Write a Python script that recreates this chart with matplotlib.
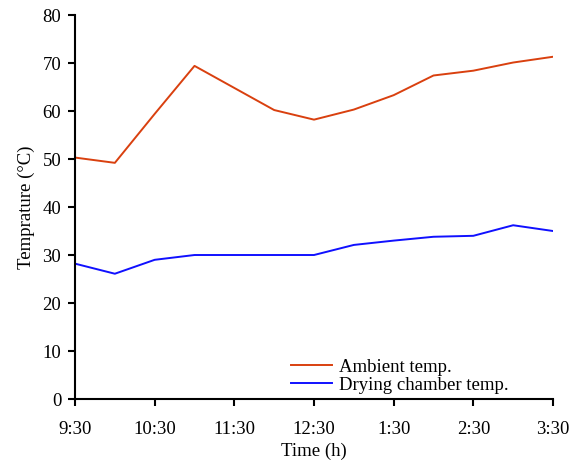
import matplotlib
matplotlib.use("Agg")
import matplotlib.pyplot as plt

plt.rcParams['font.family'] = ['Liberation Serif', 'DejaVu Serif']

# hours after 9:30, sampled every half hour
hours = [0, 0.5, 1, 1.5, 2, 2.5, 3, 3.5, 4, 4.5, 5, 5.5, 6]
ambient = [50.3, 49.2, 59.4, 69.4, 64.8, 60.2, 58.2, 60.3, 63.3, 67.4, 68.4, 70.1, 71.3]
chamber = [28.2, 26.1, 29.0, 30.0, 30.0, 30.0, 30.0, 32.1, 33.0, 33.8, 34.0, 36.2, 35.0]

tick_pos = [0, 1, 2, 3, 4, 5, 6]
tick_labels = ["9:30", "10:30", "11:30", "12:30", "1:30", "2:30", "3:30"]

fig = plt.figure(figsize=(5.74, 4.63), dpi=100)
ax = fig.add_axes([0.1307, 0.1382, 0.8327, 0.8294])

ax.plot(hours, ambient, color='#d9400f', lw=1.4, label='Ambient temp.')
ax.plot(hours, chamber, color='#1010ff', lw=1.4, label='Drying chamber temp.')

ax.set_xlim(0, 6)
ax.set_ylim(0, 80)
ax.set_xticks(tick_pos)
ax.set_xticklabels(tick_labels)
ax.set_yticks(range(0, 81, 10))

for s in ['top', 'right']:
    ax.spines[s].set_visible(False)
for s in ['left', 'bottom']:
    ax.spines[s].set_linewidth(1.5)
ax.tick_params(direction='out', length=5, width=1.5, labelsize=13.5)
ax.tick_params(axis='x', pad=10.5)
ax.tick_params(axis='y', pad=5)

ax.set_xlabel("Time (h)", fontsize=13.5, labelpad=4)
ax.set_ylabel("Temprature (\u00b0C)", fontsize=13.5, labelpad=5)

ax.legend(loc='lower left', bbox_to_anchor=(0.417, -0.03), frameon=False,
          fontsize=13.5, handlelength=2.2, handletextpad=0.35, labelspacing=0.05)

fig.savefig("out.png", dpi=100)
